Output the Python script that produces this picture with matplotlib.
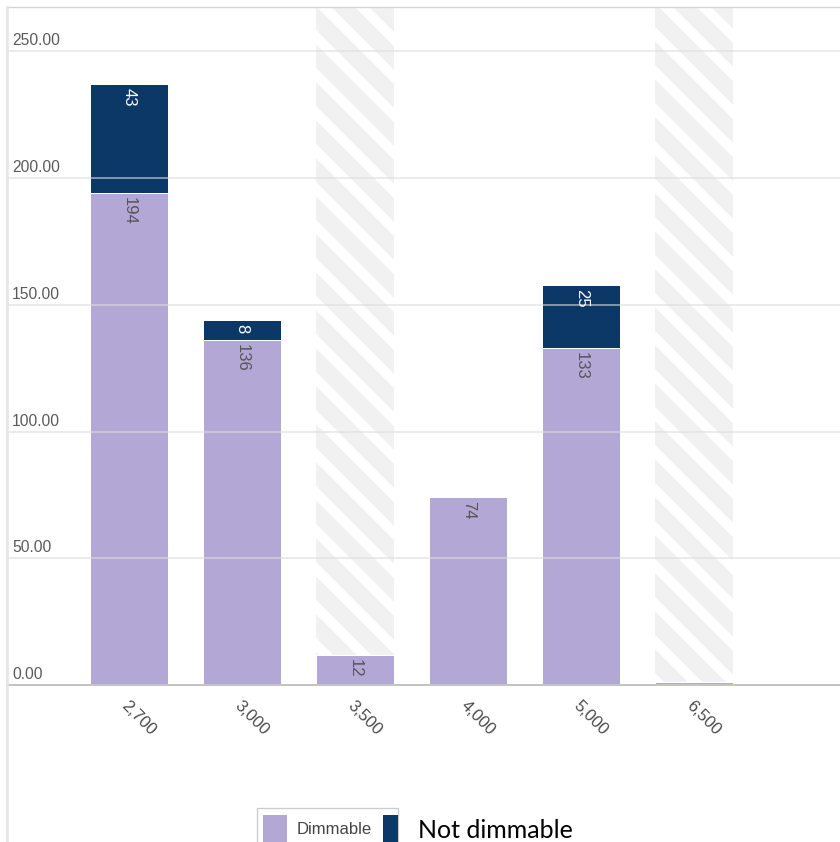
import matplotlib
matplotlib.use("Agg")
import matplotlib.pyplot as plt
from matplotlib.patches import Rectangle
from matplotlib.lines import Line2D
from matplotlib.transforms import IdentityTransform

# data
categories = ["2,700", "3,000", "3,500", "4,000", "5,000", "6,500"]
dimmable = [194, 136, 12, 74, 133, 1]
not_dimmable = [43, 8, 0, 0, 25, 0]
series_names = ["Dimmable", "Not dimmable"]
hatched = ["3,500", "6,500"]
yticks = [0, 50, 100, 150, 200, 250]

col_dim = "#b3a7d6"
col_not = "#0b3866"

W, H = 840, 842
DPI = 240
plt.rcParams["font.family"] = ["Liberation Sans", "DejaVu Sans"]

fig = plt.figure(figsize=(W / DPI, H / DPI), dpi=DPI)
ax = fig.add_axes([7 / W, 157 / H, 833 / W, 678 / H])

x = list(range(len(categories)))
bw = 0.69
ymax = 267.5
ax.set_xlim(-1.08, 6.29)
ax.set_ylim(0, ymax)

# striped background columns (diagonal light grey bands)
period = 38
for i, c in enumerate(categories):
    if c not in hatched:
        continue
    span = ax.axvspan(i - bw / 2, i + bw / 2, facecolor="white", lw=0, zorder=0)
    (x0, y0), (x1, y1) = ax.transData.transform([(i - bw / 2, 0), (i + bw / 2, ymax)])
    k = int((x0 + y0) // period) - 1
    while k * period < x1 + y1 + period:
        cc = k * period
        ln = Line2D([cc - y1 - 20, cc - y0 + 20], [y1 + 20, y0 - 20], color="#f1f1f1",
                    lw=5.0, solid_capstyle="butt", transform=IdentityTransform(), zorder=1)
        ax.add_line(ln)
        ln.set_clip_path(span)
        k += 1

bars1 = ax.bar(x, dimmable, bw, color=col_dim, edgecolor="white", lw=0.3, zorder=2)
bars2 = ax.bar(x, not_dimmable, bw, bottom=dimmable, color=col_not, edgecolor="white",
               lw=0.3, zorder=2)

# gridlines drawn over the bars, semi transparent
for v in yticks:
    if v > 0:
        ax.axhline(v, color="#dcdcdc", lw=0.45, alpha=0.75, zorder=3)
    ax.text(0.006, v + 1.2, f"{v:.2f}", transform=ax.get_yaxis_transform(),
            ha="left", va="bottom", fontsize=4.7, color="#5a5a5a", zorder=4)

# value labels inside segments
for bars, vals, tc in [(bars1, dimmable, "#555555"), (bars2, not_dimmable, "white")]:
    for rect, v in zip(bars, vals):
        if v < 2:
            continue
        top = rect.get_y() + rect.get_height()
        t = ax.annotate(str(v), (rect.get_x() + rect.get_width() / 2, top),
                        xytext=(0, -4), textcoords="offset pixels",
                        rotation=270, ha="center", va="top", fontsize=5,
                        color=tc, zorder=5)
        t.set_clip_path(rect)

ax.set_yticks([])
ax.set_xticks(x)
ax.set_xticklabels(categories, rotation=-45, ha="left", va="top",
                   rotation_mode="anchor", fontsize=5, color="#4a4a4a")
ax.tick_params(axis="x", length=0, pad=4)
for s in ["left", "right"]:
    ax.spines[s].set_visible(False)
ax.spines["top"].set_color("#d5d5d5")
ax.spines["top"].set_linewidth(0.4)
ax.spines["bottom"].set_color("#c4c4c4")
ax.spines["bottom"].set_linewidth(0.6)
ax.spines["bottom"].set_zorder(6)

def fx(px):
    return px / W

def fy(py):
    return 1 - py / H

# outer left border
fig.add_artist(Line2D([fx(7), fx(7)], [0, fy(7)], color="#e6e6e6", lw=0.8))

# legend box at the bottom
fig.add_artist(Rectangle((fx(257), fy(845)), fx(398) - fx(257), 37 / H, facecolor="white",
                         edgecolor="#cccccc", lw=0.4))
fig.add_artist(Rectangle((fx(263), fy(845)), 24 / W, 30 / H, facecolor=col_dim, lw=0))
fig.text(fx(297), fy(829), series_names[0], ha="left", va="center", fontsize=5,
         color="#444444")
fig.add_artist(Rectangle((fx(383), fy(845)), 15 / W, 30 / H, facecolor=col_not, lw=0))
fig.text(fx(418), fy(830), series_names[1], ha="left", va="center", fontsize=7.5,
         color="black", family=["Lato", "DejaVu Sans"])

fig.savefig("out.png", dpi=DPI)
